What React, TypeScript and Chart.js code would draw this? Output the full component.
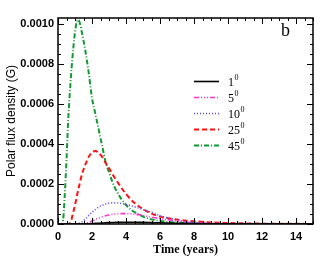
import React, { useEffect, useRef } from "react";
import { Chart, registerables } from "chart.js";

Chart.register(...registerables);

// Time grid (years)
const times = [0, 0.2, 0.3, 0.4, 0.5, 0.6, 0.7, 0.8, 0.9, 1.0, 1.1, 1.2, 1.3, 1.4, 1.6, 1.8, 2.0, 2.2, 2.4, 2.6, 2.8, 3.0, 3.2, 3.5, 4.0, 4.5, 5.0, 5.5, 6.0, 7, 8, 9, 10, 11, 12, 13, 14, 15];

// Polar flux density in units of 1e-4 G
const UNIT = 1e-4;
const deg1 = [0, 0, 0, 0, 0, 0, 0, 0, 0, 0, 0, 0, 0, 0, 0.005, 0.012, 0.02, 0.03, 0.04, 0.05, 0.06, 0.068, 0.075, 0.085, 0.09, 0.088, 0.08, 0.07, 0.06, 0.04, 0.025, 0.015, 0.008, 0.004, 0.002, 0, 0, 0];
const deg5 = [0, 0, 0, 0, 0, 0, 0, 0, 0, 0, 0, 0, 0.005, 0.01, 0.04, 0.09, 0.15, 0.22, 0.3, 0.36, 0.41, 0.45, 0.48, 0.51, 0.52, 0.49, 0.43, 0.34, 0.27, 0.15, 0.07, 0.03, 0.01, 0, 0, 0, 0, 0];
const deg10 = [0, 0, 0, 0, 0, 0, 0, 0, 0, 0, 0.01, 0.03, 0.06, 0.1, 0.24, 0.42, 0.58, 0.72, 0.85, 0.94, 1.0, 1.04, 1.06, 1.05, 0.98, 0.86, 0.72, 0.58, 0.42, 0.2, 0.08, 0.03, 0.01, 0, 0, 0, 0, 0];
const deg25 = [0, 0, 0, 0, 0, 0, 0.05, 0.25, 0.6, 0.95, 1.35, 1.75, 2.1, 2.45, 2.95, 3.35, 3.58, 3.65, 3.55, 3.35, 3.05, 2.8, 2.5, 2.1, 1.5, 1.05, 0.75, 0.52, 0.37, 0.22, 0.14, 0.08, 0.05, 0.03, 0.02, 0.01, 0.01, 0];
const deg45 = [0, 0, 0.2, 1.5, 3.2, 5.2, 6.6, 7.8, 8.8, 9.6, 10.1, 10.2, 10.0, 9.6, 8.7, 7.6, 6.3, 5.5, 4.7, 3.9, 3.1, 2.6, 2.1, 1.56, 0.95, 0.6, 0.37, 0.23, 0.15, 0.07, 0.03, 0.01, 0, 0, 0, 0, 0, 0];

const seriesLabels = ["1", "5", "10", "25", "45"];
const seriesValues = [deg1, deg5, deg10, deg25, deg45];
const seriesColors = ["#000000", "#ff33cc", "#5544ff", "#ff1111", "#119933"];
const seriesDashes: number[][] = [[], [5, 2, 1, 2, 1, 2, 1, 2], [1, 2], [5, 3], [5, 2, 1, 2]];
const seriesWidths = [1.6, 1.6, 1.6, 2, 2];

const xTitle = "Time (years)";
const yTitle = "Polar flux density (G)";
const panelLabel = "b";

const X_MIN = 0, X_MAX = 15, X_STEP = 2, X_MINOR = 0.5;
const Y_MIN = 0, Y_MAX = 0.00103, Y_STEP = 0.0002, Y_MINOR = 0.00005;

const decorPlugin = {
  id: "decor",
  afterDraw(chart: any) {
    const ctx = chart.ctx as CanvasRenderingContext2D;
    const { left, right, top, bottom } = chart.chartArea;
    const xs = chart.scales.x;
    const ys = chart.scales.y;
    ctx.save();
    ctx.strokeStyle = "#000";
    ctx.lineWidth = 1.5;
    ctx.setLineDash([]);
    ctx.strokeRect(left, top, right - left, bottom - top);

    ctx.lineWidth = 1;
    // x ticks (inward, bottom and top)
    const nx = Math.round((X_MAX - X_MIN) / X_MINOR);
    for (let i = 0; i <= nx; i++) {
      const v = X_MIN + i * X_MINOR;
      const px = Math.round(xs.getPixelForValue(v)) + 0.5;
      const major = Math.abs(v / X_STEP - Math.round(v / X_STEP)) < 1e-6;
      const len = major ? 6 : 3;
      ctx.beginPath();
      ctx.moveTo(px, bottom);
      ctx.lineTo(px, bottom - len);
      ctx.moveTo(px, top);
      ctx.lineTo(px, top + len);
      ctx.stroke();
    }
    // y ticks
    const ny = Math.floor((Y_MAX - Y_MIN) / Y_MINOR + 1e-6);
    for (let i = 0; i <= ny; i++) {
      const v = Y_MIN + i * Y_MINOR;
      const py = Math.round(ys.getPixelForValue(v)) + 0.5;
      const major = i % Math.round(Y_STEP / Y_MINOR) === 0;
      const len = major ? 6 : 3;
      ctx.beginPath();
      ctx.moveTo(left, py);
      ctx.lineTo(left + len, py);
      ctx.moveTo(right, py);
      ctx.lineTo(right - len, py);
      ctx.stroke();
    }

    // axis titles
    ctx.fillStyle = "#000";
    ctx.textAlign = "center";
    ctx.textBaseline = "middle";
    ctx.font = "bold 12px 'Liberation Serif'";
    ctx.fillText(xTitle, (left + right) / 2, 250);
    ctx.save();
    ctx.translate(12, (top + bottom) / 2);
    ctx.rotate(-Math.PI / 2);
    ctx.font = "12px 'Liberation Sans'";
    ctx.fillText(yTitle, 0, 0);
    ctx.restore();

    // panel label
    ctx.textAlign = "left";
    ctx.textBaseline = "alphabetic";
    ctx.font = "18px 'Liberation Serif'";
    ctx.fillText(panelLabel, 281, 36);

    // legend
    for (let i = 0; i < seriesLabels.length; i++) {
      const y = 81 + 16 * i;
      ctx.beginPath();
      ctx.strokeStyle = seriesColors[i];
      ctx.lineWidth = seriesWidths[i];
      ctx.setLineDash(seriesDashes[i]);
      ctx.moveTo(194, y + 0.5);
      ctx.lineTo(219, y + 0.5);
      ctx.stroke();
      ctx.setLineDash([]);
      ctx.fillStyle = "#000";
      ctx.font = "12px 'Liberation Serif'";
      ctx.textBaseline = "alphabetic";
      const base = y + 5;
      ctx.fillText(seriesLabels[i], 228, base);
      const w = ctx.measureText(seriesLabels[i]).width;
      ctx.font = "8px 'Liberation Serif'";
      ctx.fillText("0", 228 + w + 0.5, base - 6);
    }
    ctx.restore();
  },
};

export default function App() {
  const ref = useRef<HTMLCanvasElement>(null);
  useEffect(() => {
    const canvas = ref.current;
    if (!canvas) return;
    const datasets = seriesValues.map((vals, i) => ({
      label: seriesLabels[i],
      data: times.map((t, k) => ({ x: t, y: vals[k] * UNIT })),
      borderColor: seriesColors[i],
      backgroundColor: seriesColors[i],
      borderWidth: seriesWidths[i],
      borderDash: seriesDashes[i],
      pointRadius: 0,
      fill: false,
      cubicInterpolationMode: "monotone" as const,
    }));
    const tickFont = { family: "'Liberation Sans'", weight: "bold" as const, size: 11 };
    const chart = new Chart(canvas, {
      type: "line",
      data: { datasets },
      options: {
        responsive: false,
        animation: false,
        devicePixelRatio: 1,
        layout: { padding: { left: 0, right: 17, top: 18, bottom: 0 } },
        plugins: { legend: { display: false }, tooltip: { enabled: false } },
        scales: {
          x: {
            type: "linear",
            min: X_MIN,
            max: X_MAX,
            grid: { display: false, drawTicks: false },
            border: { display: false },
            ticks: { stepSize: X_STEP, includeBounds: false, font: tickFont, color: "#000", padding: 6, maxRotation: 0, autoSkip: false },
            afterFit: (s: any) => { s.height = 40; },
          },
          y: {
            type: "linear",
            min: Y_MIN,
            max: Y_MAX,
            grid: { display: false, drawTicks: false },
            border: { display: false },
            ticks: { stepSize: Y_STEP, includeBounds: false, font: tickFont, color: "#000", padding: 4, autoSkip: false, callback: (v: any) => Number(v).toFixed(4) },
            afterFit: (s: any) => { s.width = 58; },
          },
        },
      },
      plugins: [decorPlugin],
    });
    return () => chart.destroy();
  }, []);
  return (
    <div style={{ position: "absolute", left: 0, top: 0, width: 330, height: 264, background: "#fff" }}>
      <canvas ref={ref} width={330} height={264} style={{ display: "block" }} />
    </div>
  );
}
